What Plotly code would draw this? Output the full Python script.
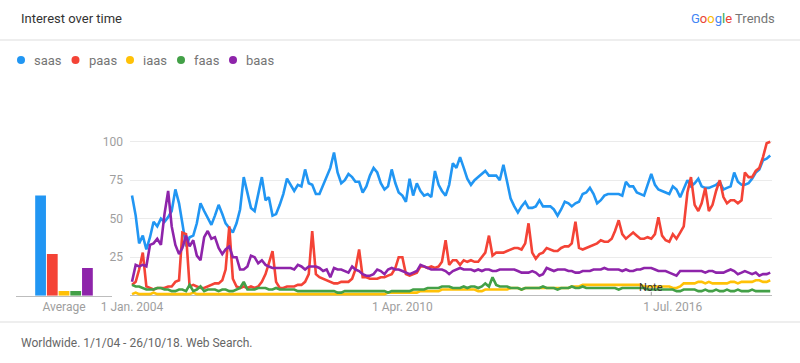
import pandas as pd
import plotly.graph_objects as go

# ---------------- data ----------------
terms = ["saas", "paas", "iaas", "faas", "baas"]
colors = ["#2196F3", "#F44336", "#FFC107", "#43A047", "#8E24AA"]
averages = [65, 27, 3, 3, 18]

start_month = "2004-01-01"
n_months = 178

saas = [65,52,34,39,30,38,48,45,50,48,
        51,55,69,60,47,32,38,39,47,60,
        55,50,46,52,59,53,47,44,41,47,
        56,77,66,57,55,65,77,62,64,52,
        53,59,66,76,72,68,72,71,82,73,
        72,66,66,72,77,83,93,80,73,75,
        79,77,74,74,67,71,78,83,80,73,
        69,71,82,73,67,65,61,76,65,73,
        68,65,66,64,81,72,68,65,72,86,
        83,90,83,76,72,75,77,79,81,78,
        78,78,75,85,74,63,58,54,58,61,
        57,57,58,62,58,58,58,56,52,56,
        61,60,58,60,61,66,67,70,66,60,
        62,65,66,66,66,66,65,74,71,71,
        67,66,65,72,79,72,69,68,67,66,
        71,69,64,70,75,71,73,76,71,70,
        70,71,72,74,69,70,71,80,74,72,
        72,73,76,80,82,88,89,91]

paas = [7,9,17,28,6,5,4,5,5,5,
        6,6,9,10,41,40,6,7,6,5,
        5,6,7,8,8,10,17,45,11,6,
        5,6,5,6,5,6,9,14,21,29,
        9,5,5,6,6,6,7,7,9,14,
        42,14,12,11,10,9,8,8,9,9,
        9,11,17,30,12,12,11,11,11,12,
        12,13,14,18,25,25,14,13,14,15,
        19,19,18,19,18,19,22,36,20,23,
        23,20,23,22,23,22,22,25,28,39,
        26,28,28,28,29,30,31,31,30,34,
        47,28,24,27,28,31,30,29,29,31,
        32,32,34,48,31,30,31,32,33,34,
        36,35,35,37,42,49,40,37,39,41,
        39,37,37,38,37,40,51,39,36,35,
        40,37,41,45,67,77,59,55,60,70,
        55,59,68,75,64,60,62,62,60,62,
        80,77,77,81,83,90,99,100]

iaas = [1,2,1,1,1,1,2,1,1,1,
        1,1,1,1,1,1,1,2,1,1,
        1,1,1,1,1,1,1,1,1,1,
        1,1,1,1,1,1,1,1,1,1,
        1,1,1,1,1,1,1,1,1,1,
        1,1,1,1,1,1,1,1,1,1,
        1,1,1,1,1,1,1,1,1,1,
        1,2,2,2,2,2,2,2,2,2,
        3,3,3,3,3,3,4,4,4,4,
        4,4,4,4,4,4,3,3,4,4,
        4,4,4,4,4,5,5,5,4,5,
        5,5,5,5,5,5,5,5,5,5,
        5,5,6,6,6,7,7,7,7,7,
        7,7,7,7,7,7,7,7,7,7,
        7,7,6,6,6,6,6,6,6,6,
        5,5,6,8,8,8,8,9,9,8,
        9,8,8,8,8,8,9,9,8,9,
        9,9,9,10,10,9,9,10]

faas = [7,6,6,5,4,4,4,5,5,4,
        4,3,3,4,4,3,7,3,4,6,
        3,4,4,4,3,4,4,3,3,4,
        5,9,4,4,4,5,5,5,4,4,
        5,4,4,4,4,4,3,3,3,3,
        3,3,3,3,3,3,3,2,2,3,
        3,3,3,3,3,3,3,3,3,3,
        3,2,3,3,3,3,3,3,4,4,
        4,4,5,5,5,5,6,6,6,5,
        5,5,6,5,6,6,5,6,8,6,
        12,7,6,6,6,5,5,5,4,5,
        5,5,5,5,6,5,5,5,4,5,
        5,5,6,5,5,6,5,5,5,5,
        5,5,5,5,5,4,5,5,5,5,
        5,5,5,4,4,4,4,4,4,4,
        4,3,3,4,4,4,4,3,3,4,
        3,3,4,3,3,4,3,3,4,3,
        3,3,4,3,3,3,3,3]

baas = [9,20,19,20,19,33,34,37,33,53,
        68,45,33,27,31,39,32,36,26,23,
        38,42,37,38,31,27,30,32,25,25,
        17,17,19,26,25,21,23,20,19,18,
        18,18,18,18,18,17,20,19,17,19,
        19,19,18,16,17,12,18,17,17,16,
        15,19,17,16,14,13,13,14,17,16,
        14,17,18,17,17,16,15,14,15,16,
        20,19,18,17,17,17,17,16,14,16,
        17,18,17,17,17,16,17,16,17,17,
        16,16,17,17,17,17,17,16,15,15,
        15,16,15,13,14,18,17,16,17,17,
        17,16,16,15,15,16,16,16,17,17,
        17,18,17,17,17,17,16,17,16,16,
        17,17,18,18,18,17,16,16,16,15,
        14,13,16,16,16,16,16,16,16,15,
        16,16,15,15,15,16,17,16,14,15,
        16,15,14,15,13,14,14,15]

series = [saas, paas, iaas, faas, baas]

x_tickvals = ["2004-01-01", "2010-04-01", "2016-07-01"]
x_ticktext = ["1 Jan. 2004", "1 Apr. 2010", "1 Jul. 2016"]
y_tickvals = [25, 50, 75, 100]
note_date = "2016-01-01"

title_text = "Interest over time"
footer_text = "Worldwide. 1/1/04 - 26/10/18. Web Search."

# ---------------- figure ----------------
W, H = 800, 363
dates = pd.date_range(start_month, periods=n_months, freq="MS")

def px(x):
    return x / W

def py(y):
    return 1 - y / H

FONT = "Roboto, Arial, sans-serif"
fig = go.Figure()

for name, avg, col in zip(terms, averages, colors):
    fig.add_trace(go.Bar(x=["Average"], y=[avg], name=name, marker_color=col,
                         marker_line_width=0, xaxis="x", yaxis="y",
                         showlegend=False, hoverinfo="skip"))

for name, vals, col in zip(terms, series, colors):
    fig.add_trace(go.Scatter(x=dates, y=vals, name=name, mode="lines",
                             line=dict(color=col, width=2.6),
                             xaxis="x2", yaxis="y2", showlegend=False))

# plot geometry (pixels): y=0 at 295.7, y=100 at 141.7
y0_px, y100_px = 295.7, 141.7
ppu = (y0_px - y100_px) / 100.0
lo, hi = -1.5, 103
line_dom = [py(y0_px - lo * ppu), py(y0_px - hi * ppu)]
bar_dom = [py(y0_px), py(y0_px - hi * ppu)]

axis_font = dict(family=FONT, size=12, color="#9e9e9e")

fig.update_layout(
    width=W, height=H,
    margin=dict(l=0, r=0, t=0, b=0, pad=0, autoexpand=False),
    showlegend=False, hovermode=False,
    paper_bgcolor="white", plot_bgcolor="white",
    barmode="group", bargap=0.39, bargroupgap=0.08,
    xaxis=dict(domain=[px(16), px(112)], anchor="y", type="category",
               range=[-0.5, 0.5], showline=True, linecolor="#bdbdbd",
               linewidth=1, showgrid=False, zeroline=False, ticks="",
               tickfont=axis_font, fixedrange=True, automargin=False),
    yaxis=dict(domain=bar_dom, anchor="x", range=[0, hi], visible=False,
               fixedrange=True, automargin=False),
    xaxis2=dict(domain=[px(130), px(772)], anchor="y2", type="date",
                range=["2003-12-15", "2018-10-16"], showgrid=False,
                showline=False, zeroline=False, ticks="",
                tickvals=x_tickvals, ticktext=x_ticktext,
                tickfont=axis_font, fixedrange=True, automargin=False),
    yaxis2=dict(domain=line_dom, anchor="x2", range=[lo, hi],
                tickvals=y_tickvals, showgrid=True, gridcolor="#ebebeb",
                gridwidth=1, zeroline=True, zerolinecolor="#bdbdbd",
                zerolinewidth=1, showline=False, ticks="",
                ticklabelstandoff=6, tickfont=axis_font, fixedrange=True,
                automargin=False),
)

shapes = []
annotations = []

# separators
for yy in (40, 322):
    shapes.append(dict(type="line", xref="paper", yref="paper",
                       x0=0, x1=1, y0=py(yy), y1=py(yy),
                       line=dict(color="#eeeeee", width=2)))

# header
annotations.append(dict(text=title_text, xref="paper", yref="paper",
                        x=px(19), y=py(18), xanchor="left", yanchor="middle",
                        showarrow=False,
                        font=dict(family=FONT, size=13, color="#333333")))
google = ("<span style='color:#4285F4'>G</span><span style='color:#EA4335'>o</span>"
          "<span style='color:#FBBC05'>o</span><span style='color:#4285F4'>g</span>"
          "<span style='color:#34A853'>l</span><span style='color:#EA4335'>e</span>"
          " <span style='color:#757575'>Trends</span>")
annotations.append(dict(text=google, xref="paper", yref="paper",
                        x=px(777), y=py(19), xanchor="right", yanchor="middle",
                        showarrow=False, font=dict(family=FONT, size=13)))

# legend
dot_x = [21, 75.5, 130, 181, 233]
for name, col, dx in zip(terms, colors, dot_x):
    shapes.append(dict(type="circle", xref="paper", yref="paper",
                       x0=px(dx - 4), x1=px(dx + 4), y0=py(64), y1=py(56),
                       fillcolor=col, line=dict(width=0)))
    annotations.append(dict(text=name, xref="paper", yref="paper",
                            x=px(dx + 11), y=py(60), xanchor="left",
                            yanchor="middle", showarrow=False,
                            font=dict(family=FONT, size=13, color="#757575")))

# note marker
shapes.append(dict(type="line", xref="x2", yref="y2", x0=note_date, x1=note_date,
                   y0=0, y1=2.5, line=dict(color="#9e9e9e", width=1)))
annotations.append(dict(text="Note", xref="x2", yref="y2", x=note_date, y=5.6,
                        xanchor="center", yanchor="middle", showarrow=False,
                        font=dict(family=FONT, size=11, color="#333333")))

# footer
annotations.append(dict(text=footer_text, xref="paper", yref="paper",
                        x=px(19), y=py(343), xanchor="left", yanchor="middle",
                        showarrow=False,
                        font=dict(family=FONT, size=12, color="#666666")))

fig.update_layout(shapes=shapes, annotations=annotations)
fig.write_html("out.html",
               config={"displayModeBar": False, "staticPlot": True},
               post_script="document.body.style.margin='0';"
                           "document.body.style.overflow='hidden';")
